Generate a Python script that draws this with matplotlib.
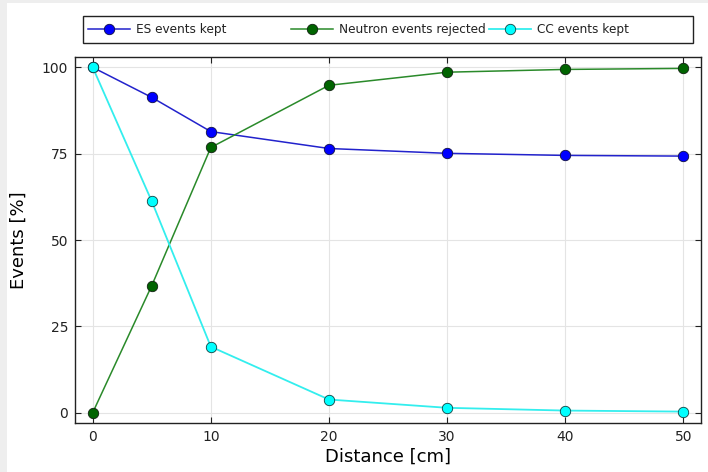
import numpy as np
import matplotlib.pyplot as plt
from matplotlib.patches import Rectangle

# distance cut [cm]
distance = [0, 5, 10, 20, 30, 40, 50]

# event fractions [%]
es_kept = [100.0, 91.3, 81.4, 76.5, 75.1, 74.5, 74.3]
neutron_rejected = [0.0, 36.8, 76.8, 94.8, 98.6, 99.4, 99.7]
cc_kept = [100.0, 61.2, 19.1, 3.8, 1.4, 0.6, 0.3]

labels = ['ES events kept', 'Neutron events rejected', 'CC events kept']

W, H = 708, 472
fig = plt.figure(figsize=(W / 100, H / 100), dpi=100, facecolor='#eeeeee')
# white page inside the grey screenshot margin
fig.patches.append(Rectangle((7 / W, 0), 1, 1 - 3 / H, transform=fig.transFigure,
                             facecolor='white', edgecolor='none', zorder=-10))

ax = fig.add_axes([75 / W, 1 - 423 / H, 626 / W, 366 / H])

lines = []
lines += ax.plot(distance, es_kept, '-o', color='#2222cc', lw=1.1, ms=7.5,
                 mfc='#0000ff', mec='#101040', mew=0.6, label=labels[0])
lines += ax.plot(distance, neutron_rejected, '-o', color='#2a8a2a', lw=1.1, ms=7.5,
                 mfc='#006400', mec='#102010', mew=0.6, label=labels[1])
lines += ax.plot(distance, cc_kept, '-o', color='#33eeee', lw=1.3, ms=7.5,
                 mfc='#00ffff', mec='#104040', mew=0.6, label=labels[2])

ax.set_xlim(-1.5, 51.5)
ax.set_ylim(-3.0, 103.0)
ax.set_xticks([0, 10, 20, 30, 40, 50])
ax.set_yticks([0, 25, 50, 75, 100])
ax.grid(True, color='#e4e4e4', lw=0.8)
ax.set_axisbelow(True)
ax.tick_params(direction='in', top=True, right=True, length=4, width=0.8,
               labelsize=10, colors='#222222', labelcolor='#222222', pad=5)
for s in ax.spines.values():
    s.set_linewidth(1.0)
    s.set_color('#222222')

ax.set_xlabel('Distance [cm]', fontsize=13, labelpad=3)
ax.set_ylabel('Events [%]', fontsize=13, labelpad=10)

# legend: frame box plus one entry per fixed-width column
fig.patches.append(Rectangle((83 / W, 1 - 43 / H), 610 / W, 27 / H, transform=fig.transFigure,
                             facecolor='white', edgecolor='#222222', lw=1.0))
col_x = [88, 291, 489]
for ln, lab, x0 in zip(lines, labels, col_x):
    lg = fig.legend([ln], [lab], loc='center left', bbox_to_anchor=(x0 / W, 1 - 30 / H),
                    fontsize=8.7, frameon=False, handlelength=3.5, handletextpad=0.45,
                    borderaxespad=0, borderpad=0, labelcolor='#222222')

fig.savefig('out.png', dpi=100, facecolor=fig.get_facecolor())
